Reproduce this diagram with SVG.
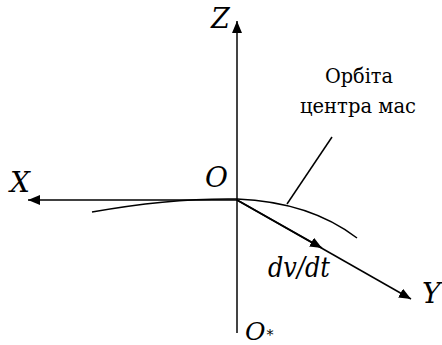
<svg xmlns="http://www.w3.org/2000/svg" width="442" height="345" viewBox="0 0 442 345">
<style>
.ln{stroke:#000;fill:none;stroke-width:1.5}
.serif{font-family:"DejaVu Serif","Liberation Serif",serif}
</style>
<defs>
<marker id="ah2" viewBox="0 0 12 10" refX="12" refY="5" markerWidth="12" markerHeight="10" markerUnits="userSpaceOnUse" orient="auto">
<path d="M0,0 L12,5 L0,10 Z" fill="#000"/>
</marker>
</defs>
<rect width="442" height="345" fill="#fff"/>
<g id="connectors">
<line x1="237" y1="333" x2="237" y2="21" stroke="#444" stroke-width="2" marker-end="url(#ah2)"/>
<line class="ln" x1="237" y1="200" x2="28" y2="200" marker-end="url(#ah2)"/>
<line class="ln" x1="237" y1="200" x2="411" y2="299" marker-end="url(#ah2)"/>
<line class="ln" x1="237" y1="200" x2="322" y2="248" marker-end="url(#ah2)"/>
<path class="ln" d="M92,212 Q170,198 237,199 Q310,202 357,238"/>
<line class="ln" x1="287" y1="204" x2="332" y2="137"/>
</g>
<g id="labels" class="serif" font-style="italic" fill="#000">
<text x="211" y="28" font-size="27">Z</text>
<text x="10" y="192" font-size="28">X</text>
<text x="205" y="187" font-size="28">O</text>
<text x="422" y="303" font-size="28">Y</text>
<text x="268" y="277" font-size="28" textLength="62" lengthAdjust="spacingAndGlyphs">dv/dt</text>
<text x="245" y="340" font-size="25">O<tspan font-style="normal" font-size="14" dx="1">*</tspan></text>
</g>
<g id="orbit-label" class="serif" font-size="20" fill="#000">
<text x="325" y="83" textLength="68" lengthAdjust="spacingAndGlyphs">Орбіта</text>
<text x="300" y="113" textLength="116" lengthAdjust="spacingAndGlyphs">центра мас</text>
</g>
</svg>
